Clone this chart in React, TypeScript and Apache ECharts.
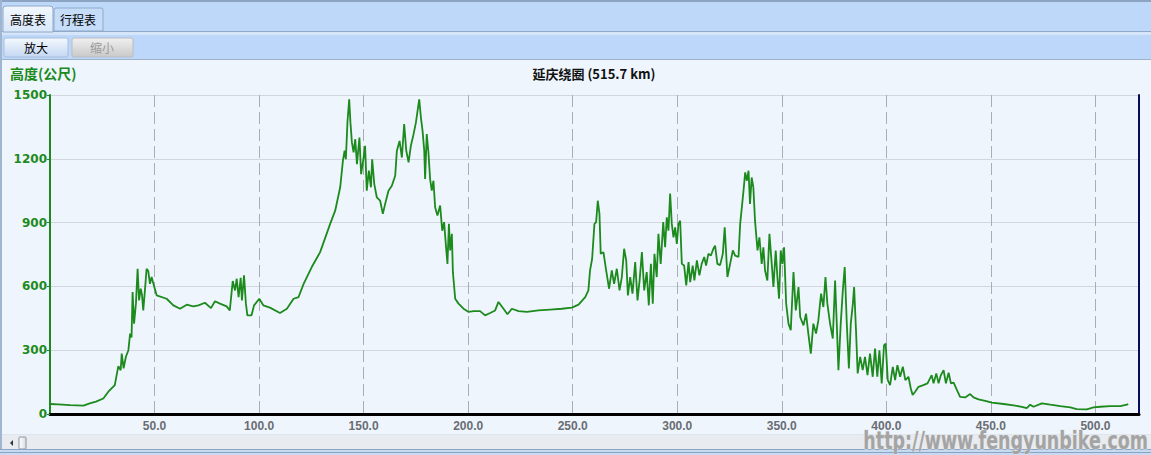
import React, { useEffect, useRef } from "react";
import * as echarts from "echarts";

// Elevation profile (distance in km, elevation in m)
const distanceKm = [
  0, 4, 9.6, 16, 19, 22, 25.5, 27.9, 31, 32, 32.7, 33.8, 34.3, 35.2, 36.3, 37.5, 38.3, 39, 39.5, 40.2,
  41.1, 41.9, 42.6, 43.4, 44, 44.6, 45.4, 46.2, 47, 47.8, 48.6, 49.9, 51, 55.8, 59, 62.2, 65.4, 68.5, 71, 74.1,
  77, 78.9, 81.3, 84.5, 86, 87.4, 88.5, 89.3, 90.2, 91.2, 91.8, 92.8, 93.7, 94.4, 96.4, 97.6, 100.1, 102, 105.2, 110,
  113.3, 116.5, 118.9, 121.3, 125.2, 129.2, 134, 136.4, 138.8, 140.1, 140.9, 141.5, 142.3, 143.1, 143.7, 144.4, 145.2, 146, 146.8, 148,
  148.8, 150, 150.7, 151.5, 152.5, 153.5, 154.1, 155.1, 156.3, 157.9, 159.2, 160.3, 161.9, 163.5, 165.1, 165.9, 167.2, 168.3, 169.4, 170.4,
  171.5, 172.6, 173.9, 175, 175.8, 176.6, 177.4, 178.2, 179, 179.4, 180.2, 181, 181.8, 182.6, 183.4, 184.2, 185.3, 186.6, 187.6, 188.5,
  189.3, 190.1, 190.8, 191.4, 192.2, 192.7, 193.8, 195.4, 197.8, 200.2, 202.6, 205.7, 208.1, 210.5, 212.9, 214.5, 216.9, 218.8, 220.9, 224.1,
  228.1, 233.6, 239.2, 244.8, 249.6, 252.8, 256, 257.5, 258.3, 259.3, 260.4, 261.2, 262, 262.8, 263.4, 264.7, 266, 267.4, 268.7, 269.8,
  271.1, 272.4, 273.5, 274.6, 275.6, 276.4, 277.5, 278.6, 279.9, 281, 282, 283.1, 284.2, 285.4, 286.4, 287.4, 288.3, 289.1, 290.2, 291,
  292.1, 293.3, 294.2, 295, 295.8, 296.6, 297.4, 298.2, 299, 299.8, 300.6, 301.4, 302.2, 303.3, 304.3, 305.4, 306.2, 307.4, 308.2, 309.4,
  310.6, 311.7, 312.9, 313.8, 314.9, 316.1, 317.3, 318.1, 319.2, 320.5, 321.8, 322.7, 323.4, 324, 325.3, 326.6, 327.7, 329.3, 330.1, 330.9,
  331.7, 332.5, 333.3, 334.1, 334.8, 335.6, 336.4, 337.2, 338.4, 339.3, 340.4, 341.2, 342, 343.1, 344.1, 345.2, 346, 347.1, 347.9, 348.7,
  349.5, 350.3, 351.1, 352.1, 353.2, 354.3, 355.6, 356.7, 358, 358.8, 360.4, 361.6, 362.7, 363.9, 365.1, 366.4, 367.5, 368.8, 369.9, 370.9,
  371.8, 373.1, 374.4, 375.5, 376.3, 377.1, 378.2, 379.2, 380.1, 381.1, 382.1, 383, 384, 384.6, 385.5, 386.3, 387.5, 388.7, 389.8, 391,
  392.2, 393.5, 394.6, 395.7, 396.7, 397.8, 398.9, 399.7, 400.7, 401.8, 403.1, 404.2, 405.3, 406.6, 407.9, 409.1, 410.6, 411.7, 412.6, 413.8,
  415.4, 417.7, 419.7, 421.7, 422.6, 423.9, 425, 426.1, 427.4, 428.5, 429.8, 430.9, 432.2, 433.8, 435.3, 437.7, 440.1, 441.7, 444.1, 447.3,
  450.5, 456.1, 460.9, 464.8, 467.2, 468.8, 470.4, 474.4, 478.4, 483.2, 488, 491.1, 495.9, 499.1, 502.3, 507.1, 511.9, 515.1, 515.7,
];
const elevationM = [
  47, 45, 42, 39, 50, 58, 73, 105, 136, 190, 225, 206, 284, 215, 269, 300, 378, 360, 573, 425,
  519, 683, 534, 589, 560, 487, 581, 683, 672, 612, 644, 597, 558, 542, 511, 495, 514, 506, 511, 523,
  498, 530, 519, 506, 487, 625, 581, 636, 550, 640, 534, 652, 519, 464, 464, 511, 542, 511, 500, 475,
  495, 542, 550, 612, 691, 761, 894, 956, 1066, 1191, 1238, 1198, 1378, 1480, 1370, 1277, 1230, 1292, 1175, 1300,
  1128, 1206, 1261, 1050, 1144, 1066, 1198, 1081, 1019, 1003, 941, 988, 1050, 1073, 1120, 1238, 1284, 1206, 1363, 1238,
  1183, 1261, 1316, 1370, 1425, 1480, 1394, 1331, 1238, 1105, 1316, 1230, 1105, 1050, 1097, 972, 933, 980, 862, 902,
  800, 706, 894, 769, 847, 667, 542, 519, 495, 480, 484, 484, 464, 475, 487, 527, 495, 469, 495, 484,
  480, 487, 491, 495, 500, 514, 550, 581, 675, 730, 894, 902, 1003, 941, 753, 761, 675, 589, 675, 612,
  683, 581, 644, 777, 722, 558, 644, 566, 714, 534, 628, 761, 581, 667, 511, 706, 519, 753, 644, 847,
  706, 902, 784, 925, 862, 1037, 894, 831, 878, 800, 894, 909, 706, 698, 605, 714, 620, 698, 628, 722,
  652, 706, 738, 698, 753, 745, 777, 792, 706, 700, 753, 878, 753, 644, 706, 769, 745, 738, 894, 972,
  1050, 1136, 1097, 1144, 988, 1112, 1066, 909, 769, 831, 706, 784, 675, 628, 847, 706, 597, 769, 644, 542,
  769, 706, 784, 519, 425, 394, 667, 487, 597, 456, 417, 472, 378, 284, 425, 378, 441, 566, 503, 644,
  519, 425, 355, 628, 425, 206, 425, 581, 691, 425, 214, 425, 519, 597, 394, 191, 269, 206, 269, 183,
  284, 175, 308, 175, 300, 144, 323, 331, 159, 136, 222, 159, 230, 175, 222, 159, 175, 120, 89, 105,
  128, 136, 144, 183, 144, 191, 144, 183, 206, 144, 194, 144, 147, 112, 81, 78, 94, 78, 69, 62,
  53, 47, 41, 34, 28, 44, 34, 50, 44, 37, 31, 23, 22, 31, 34, 37, 37, 44, 47,
];

const totalKm = 515.7;
const yTicks = [0, 300, 600, 900, 1200, 1500];
const xTickStep = 50;
const chartTitle = "延庆绕圈 (515.7 km)";
const yAxisTitle = "高度(公尺)";
const tabLabels = ["高度表", "行程表"];
const buttonLabels = ["放大", "缩小"];
const watermarkText = "http://www.fengyunbike.com";

export default function App() {
  const ref = useRef<HTMLDivElement>(null);

  useEffect(() => {
    if (!ref.current) return;
    const chart = echarts.init(ref.current, null, { renderer: "svg" });
    const LG = echarts.graphic.LinearGradient;
    const cjk = '"Noto Sans CJK SC", sans-serif';

    chart.setOption({
      animation: false,
      backgroundColor: "#eef5fd",
      grid: { left: 50, right: 12, top: 95, bottom: 41, containLabel: false },
      xAxis: {
        type: "value",
        min: 0,
        max: totalKm * 1.01,
        interval: xTickStep,
        axisLine: { show: true, onZero: false, lineStyle: { color: "#000000", width: 3 } },
        axisTick: { show: false },
        axisLabel: {
          show: true,
          margin: 6,
          color: "#6a6d72",
          fontWeight: "bold",
          fontSize: 12,
          fontFamily: "Liberation Sans, sans-serif",
          showMaxLabel: false,
          formatter: (v: number) => (v === 0 ? "" : v.toFixed(1)),
        },
        splitLine: { show: true, lineStyle: { color: "#a9adb4", width: 1, type: [12, 5] } },
      },
      yAxis: [
        {
          type: "value",
          min: yTicks[0],
          max: yTicks[yTicks.length - 1],
          interval: 300,
          axisLine: { show: true, onZero: false, lineStyle: { color: "#1c8a1c", width: 2 } },
          axisTick: { show: true, length: 3, lineStyle: { color: "#1c8a1c", width: 1 } },
          axisLabel: {
            margin: 3,
            color: "#1c8a1c",
            fontWeight: "bold",
            fontSize: 12,
            fontFamily: "DejaVu Sans, sans-serif",
            formatter: (v: number) => String(Math.round(v)),
          },
          splitLine: { show: true, lineStyle: { color: "#d3d6de", width: 1 } },
        },
        {
          type: "value",
          position: "right",
          min: 0,
          max: 1500,
          axisLine: { show: true, onZero: false, lineStyle: { color: "#0b0b5c", width: 2 } },
          axisTick: { show: false },
          axisLabel: { show: false },
          splitLine: { show: false },
        },
      ],
      series: [
        {
          type: "line",
          yAxisIndex: 0,
          data: distanceKm.map((d, i) => [d, elevationM[i]]),
          showSymbol: false,
          symbol: "none",
          lineStyle: { color: "#1c8a1c", width: 1.8 },
          z: 3,
        },
      ],
      graphic: [
        // top tab strip
        { type: "rect", z: 0, shape: { x: 0, y: 0, width: 1151, height: 31 }, style: { fill: "#bed8f9" } },
        { type: "rect", z: 0, shape: { x: 0, y: 0, width: 1151, height: 2 }, style: { fill: "#8ca4c2" } },
        { type: "rect", z: 0, shape: { x: 0, y: 31, width: 1151, height: 1 }, style: { fill: "#8fa9c8" } },
        { type: "rect", z: 0, shape: { x: 0, y: 32, width: 1151, height: 3 }, style: { fill: "#d6e5f8" } },
        { type: "rect", z: 0, shape: { x: 0, y: 35, width: 1151, height: 24 }, style: { fill: "#bdd7fa" } },
        { type: "rect", z: 0, shape: { x: 0, y: 59, width: 1151, height: 1 }, style: { fill: "#9fb1c6" } },
        // tabs
        {
          type: "rect", z: 1,
          shape: { x: 3, y: 6, width: 50, height: 26, r: [3, 3, 0, 0] },
          style: { fill: new LG(0, 0, 0, 1, [{ offset: 0, color: "#f2f7fd" }, { offset: 1, color: "#d9e7f9" }]), stroke: "#8fa9c8", lineWidth: 1 },
        },
        {
          type: "rect", z: 1,
          shape: { x: 54, y: 8, width: 49, height: 23, r: [2, 2, 0, 0] },
          style: { fill: "#c6ddfa", stroke: "#8fa9c8", lineWidth: 1 },
        },
        { type: "text", z: 2, style: { text: tabLabels[0], x: 28, y: 19, align: "center", verticalAlign: "middle", fill: "#000000", font: `12px ${cjk}` } },
        { type: "text", z: 2, style: { text: tabLabels[1], x: 78, y: 19, align: "center", verticalAlign: "middle", fill: "#000000", font: `12px ${cjk}` } },
        // buttons
        {
          type: "rect", z: 1,
          shape: { x: 4, y: 38, width: 64, height: 19, r: 2 },
          style: { fill: new LG(0, 0, 0, 1, [{ offset: 0, color: "#f4f8fd" }, { offset: 1, color: "#c4d8f3" }]), stroke: "#a9bfdc", lineWidth: 1 },
        },
        {
          type: "rect", z: 1,
          shape: { x: 72, y: 38, width: 61, height: 19, r: 2 },
          style: { fill: new LG(0, 0, 0, 1, [{ offset: 0, color: "#f0f0f0" }, { offset: 1, color: "#c9c9c9" }]), stroke: "#b8bcc2", lineWidth: 1 },
        },
        { type: "text", z: 2, style: { text: buttonLabels[0], x: 36, y: 47.5, align: "center", verticalAlign: "middle", fill: "#000000", font: `12px ${cjk}` } },
        { type: "text", z: 2, style: { text: buttonLabels[1], x: 102, y: 47.5, align: "center", verticalAlign: "middle", fill: "#9a9a9a", font: `12px ${cjk}` } },
        // left window border
        { type: "rect", z: 5, shape: { x: 0, y: 0, width: 2, height: 455 }, style: { fill: "#9fb5d0" } },
        // titles
        { type: "text", z: 4, style: { text: yAxisTitle, x: 10, y: 73, align: "left", verticalAlign: "middle", fill: "#1c8a1c", font: `bold 14px ${cjk}` } },
        { type: "text", z: 4, style: { text: chartTitle, x: 594, y: 73, align: "center", verticalAlign: "middle", fill: "#111111", font: `bold 13px ${cjk}` } },
        // scroll bar
        { type: "rect", z: 1, shape: { x: 2, y: 434, width: 1149, height: 15 }, style: { fill: "#e8ecf1" } },
        { type: "rect", z: 1, shape: { x: 2, y: 434, width: 1149, height: 1 }, style: { fill: "#dfe5ec" } },
        { type: "polygon", z: 2, shape: { points: [[13, 440], [13, 446], [10, 443]] }, style: { fill: "#333333" } },
        {
          type: "rect", z: 2,
          shape: { x: 19, y: 437, width: 7, height: 12, r: 1 },
          style: { fill: new LG(0, 0, 1, 0, [{ offset: 0, color: "#ffffff" }, { offset: 1, color: "#d8dde4" }]), stroke: "#8a94a0", lineWidth: 1 },
        },
        // bottom window border
        { type: "rect", z: 5, shape: { x: 0, y: 449, width: 1151, height: 6 }, style: { fill: "#c7daf2" } },
        { type: "rect", z: 5, shape: { x: 0, y: 449, width: 1151, height: 1 }, style: { fill: "#8aa4c4" } },
        { type: "rect", z: 5, shape: { x: 0, y: 452, width: 1151, height: 1 }, style: { fill: "#8aa4c4" } },
        // watermark
        {
          type: "text", z: 10,
          x: 1148, y: 453, scaleX: 0.81, scaleY: 1,
          style: {
            text: watermarkText, x: 0, y: 0, align: "right", verticalAlign: "bottom",
            fill: "#a4a4a4", stroke: "#e4e4e4", lineWidth: 1,
            font: 'bold 24px "DejaVu Sans Condensed", "DejaVu Sans", sans-serif',
          },
        },
      ],
    });

    return () => chart.dispose();
  }, []);

  return (
    <div
      ref={ref}
      style={{ position: "fixed", left: 0, top: 0, width: 1151, height: 455 }}
    />
  );
}
